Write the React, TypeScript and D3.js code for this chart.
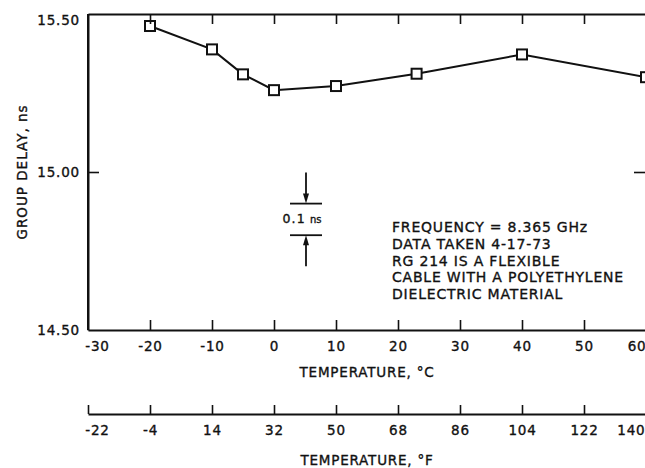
import React, { useEffect, useRef } from "react";
import * as d3 from "d3";

// Measured group delay of RG 214 cable versus temperature
const tempC = [-20, -10, -5, 0, 10, 23, 40, 60];
const delayNs = [15.462, 15.388, 15.309, 15.259, 15.272, 15.311, 15.372, 15.3];

const celsiusTicks = [-30, -20, -10, 0, 10, 20, 30, 40, 50, 60];
const fahrenheitTicks = [-22, -4, 14, 32, 50, 68, 86, 104, 122, 140];
const delayTicks = [14.5, 15.0, 15.5];

const noteLines = [
  "FREQUENCY = 8.365 GHz",
  "DATA TAKEN 4-17-73",
  "RG 214 IS A FLEXIBLE",
  "CABLE WITH A POLYETHYLENE",
  "DIELECTRIC MATERIAL",
];

const W = 645;
const H = 468;
const FONT = "'DejaVu Sans', sans-serif";
const INK = "#111";
const TEXT_STROKE = 0.35;

export default function App() {
  const ref = useRef<SVGSVGElement | null>(null);

  const x = d3.scaleLinear().domain([-30, 60]).range([88, 646]);
  const xF = d3.scaleLinear().domain([-22, 140]).range([88, 646]);
  const y = d3.scaleLinear().domain([14.5, 15.5]).range([330, 14]);
  const top = y(15.5);
  const bottom = y(14.5);
  const fAxisY = 414;

  useEffect(() => {
    const svg = d3.select(ref.current);
    svg.selectAll(".ax").remove();

    const style = (g: d3.Selection<SVGGElement, unknown, null, undefined>) => {
      g.selectAll(".domain").attr("stroke", INK).attr("stroke-width", 2);
      g.selectAll(".tick line").attr("stroke", INK).attr("stroke-width", 1.6);
      g.selectAll(".tick text")
        .attr("fill", INK)
        .attr("stroke", INK)
        .attr("stroke-width", TEXT_STROKE)
        .attr("font-family", FONT)
        .attr("font-size", 13.5)
        .attr("letter-spacing", 0.8);
    };

    // Celsius axis along the bottom of the frame, ticks pointing inward
    const gB = svg
      .append("g")
      .attr("class", "ax")
      .attr("transform", `translate(0,${bottom})`)
      .call(
        d3
          .axisBottom(x)
          .tickValues(celsiusTicks)
          .tickSizeInner(-10)
          .tickSizeOuter(0)
          .tickPadding(11)
          .tickFormat((d) => String(d))
      );
    style(gB);
    gB.selectAll(".tick line").filter((d: any) => d === -30).remove();
    gB.selectAll(".tick text").filter((d: any) => d === -30).attr("dx", 9);
    gB.selectAll(".tick text")
      .filter((d: any) => d === 60)
      .attr("text-anchor", "end")
      .attr("x", 0);

    // Top border with inward ticks, no labels
    const gT = svg
      .append("g")
      .attr("class", "ax")
      .attr("transform", `translate(0,${top})`)
      .call(
        d3
          .axisTop(x)
          .tickValues(celsiusTicks.filter((v) => v > -30 && v < 60))
          .tickSizeInner(-10)
          .tickSizeOuter(0)
          .tickFormat(() => "")
      );
    style(gT);

    // Group delay axis on the left
    const gL = svg
      .append("g")
      .attr("class", "ax")
      .attr("transform", `translate(${x(-30)},0)`)
      .call(
        d3
          .axisLeft(y)
          .tickValues(delayTicks)
          .tickSizeInner(-11)
          .tickSizeOuter(0)
          .tickPadding(8)
          .tickFormat(d3.format(".2f"))
      );
    style(gL);
    gL.selectAll(".tick line").filter((d: any) => d !== 15).remove();
    gL.selectAll(".tick text").filter((d: any) => d === 15.5).attr("dy", "0.75em");

    // Right-hand inward tick at 15.00
    const gR = svg
      .append("g")
      .attr("class", "ax")
      .attr("transform", `translate(${x(60)},0)`)
      .call(
        d3
          .axisRight(y)
          .tickValues([15.0])
          .tickSizeInner(-12)
          .tickSizeOuter(0)
          .tickFormat(() => "")
      );
    style(gR);
    gR.select(".domain").remove();

    // Fahrenheit scale below
    const gF = svg
      .append("g")
      .attr("class", "ax")
      .attr("transform", `translate(0,${fAxisY})`)
      .call(
        d3
          .axisBottom(xF)
          .tickValues(fahrenheitTicks)
          .tickSizeInner(-9)
          .tickSizeOuter(0)
          .tickPadding(11)
          .tickFormat((d) => String(d))
      );
    style(gF);
    gF.selectAll(".tick text").filter((d: any) => d === -22).attr("dx", 9);
    gF.selectAll(".tick text")
      .filter((d: any) => d === 140)
      .attr("text-anchor", "end")
      .attr("x", -1);
  }, []);

  const line = d3
    .line<number>()
    .x((_, i) => x(tempC[i]))
    .y((d) => y(d));

  // 0.1 ns reference bar, drawn between 14.80 and 14.90 ns
  const barX = x(5) + 1;
  const yA = y(14.9);
  const yB = y(14.8);
  const halfBar = 16;

  return (
    <svg
      ref={ref}
      width={W}
      height={H}
      viewBox={`0 0 ${W} ${H}`}
      style={{ position: "absolute", left: 0, top: 0, background: "#fff", display: "block" }}
    >
      <rect x={0} y={0} width={W} height={H} fill="#fff" />

      {/* left frame edge */}
      <line x1={x(-30)} x2={x(-30)} y1={top} y2={bottom} stroke={INK} strokeWidth={2} />

      {/* measured curve */}
      <path d={line(delayNs) || ""} fill="none" stroke={INK} strokeWidth={2} />
      {delayNs.map((d, i) => (
        <rect
          key={i}
          x={x(tempC[i]) - 5}
          y={y(d) - 5}
          width={10}
          height={10}
          fill="#fff"
          stroke={INK}
          strokeWidth={2}
        />
      ))}

      {/* 0.1 ns reference bar */}
      <g stroke={INK} strokeWidth={1.8}>
        <line x1={barX - halfBar} x2={barX + halfBar} y1={yA} y2={yA} />
        <line x1={barX - halfBar} x2={barX + halfBar} y1={yB} y2={yB} />
        <line x1={barX} x2={barX} y1={yA - 31} y2={yA - 6} />
        <line x1={barX} x2={barX} y1={yB + 6} y2={yB + 31} />
      </g>
      <path
        d={`M${barX - 3},${yA - 10} L${barX + 3},${yA - 10} L${barX},${yA} Z`}
        fill={INK}
      />
      <path
        d={`M${barX - 3},${yB + 10} L${barX + 3},${yB + 10} L${barX},${yB} Z`}
        fill={INK}
      />
      <text
        x={barX - 4}
        y={(yA + yB) / 2 + 4}
        textAnchor="middle"
        fontFamily={FONT}
        fontSize={12.5}
        letterSpacing={1.2}
        fill={INK}
        stroke={INK}
        strokeWidth={TEXT_STROKE}
      >
        0.1
        <tspan fontSize={10} letterSpacing={0} dx={4}>
          ns
        </tspan>
      </text>

      {/* notes */}
      {noteLines.map((t, i) => (
        <text
          key={t}
          x={392}
          y={232 + i * 16.8}
          fontFamily={FONT}
          fontSize={14}
          letterSpacing={0.8}
          fill={INK}
          stroke={INK}
          strokeWidth={TEXT_STROKE}
        >
          {t}
        </text>
      ))}

      {/* axis titles */}
      <text
        transform={`translate(27,${y(15.0)}) rotate(-90)`}
        textAnchor="middle"
        fontFamily={FONT}
        fontSize={13.5}
        letterSpacing={1}
        fill={INK}
        stroke={INK}
        strokeWidth={TEXT_STROKE}
      >
        GROUP DELAY, ns
      </text>
      <text
        x={367}
        y={377}
        textAnchor="middle"
        fontFamily={FONT}
        fontSize={13.5}
        letterSpacing={0.8}
        fill={INK}
        stroke={INK}
        strokeWidth={TEXT_STROKE}
      >
        TEMPERATURE, °C
      </text>
      <text
        x={367}
        y={465}
        textAnchor="middle"
        fontFamily={FONT}
        fontSize={13.5}
        letterSpacing={0.8}
        fill={INK}
        stroke={INK}
        strokeWidth={TEXT_STROKE}
      >
        TEMPERATURE, °F
      </text>
    </svg>
  );
}
